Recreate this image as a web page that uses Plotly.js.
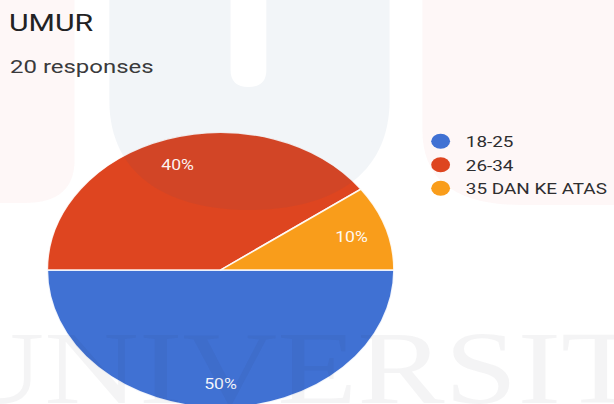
<!DOCTYPE html>
<html>
<head>
<meta charset="utf-8">
<script src="https://cdn.plot.ly/plotly-3.0.1.min.js"></script>
<style>
  html, body { margin: 0; padding: 0; background: #ffffff; overflow: hidden; width: 614px; height: 404px; }
  #chart { width: 488px; height: 420px; transform: scaleX(1.26); transform-origin: 0 0; }
</style>
</head>
<body>
<div id="chart"></div>
<script>
// ---- data ----
const chartTitle = 'UMUR';
const subtitle = '20 responses';
const categories = ['18-25', '26-34', '35 DAN KE ATAS'];
const counts = [10, 8, 2];
const colors = ['#4071d3', '#de4520', '#f99d1b'];
const watermarkText = 'UNIVERSITY';

// ---- layout geometry (unstretched pixels; page is stretched 1.26x horizontally) ----
const S = 1.26;
const W = 488, H = 420;
const cx = 222 / S, cy = 270, R = 138.5;
const px = x => x / W;          // x given in unstretched px
const sx = x => x / S / W;      // x given in final (stretched) px
const py = y => 1 - y / H;

const total = counts.reduce((a, b) => a + b, 0);

const pie = {
  type: 'pie',
  values: counts,
  labels: categories,
  marker: { colors: colors, line: { color: 'rgba(255,255,255,0.9)', width: 1.5 } },
  sort: false,
  direction: 'clockwise',
  rotation: 90,
  textinfo: 'none',
  hoverinfo: 'skip',
  showlegend: false,
  domain: { x: [px(cx - R), px(cx + R)], y: [py(cy + R), py(cy - R)] }
};

const legendTraces = categories.map((c, i) => ({
  type: 'scatter', mode: 'markers', x: [null], y: [null],
  name: c, legendgroup: 'g' + i,
  marker: { size: 15, color: colors[i], symbol: 'circle' },
  hoverinfo: 'skip'
}));

// percent labels placed along each slice bisector
const annotations = [];
let cum = 0;
counts.forEach((v, i) => {
  const mid = (90 + (cum + v / 2) / total * 360) * Math.PI / 180;
  cum += v;
  const rl = 0.81 * R;
  annotations.push({
    xref: 'paper', yref: 'paper',
    x: px(cx + rl * Math.sin(mid) * 0.98), y: py(cy - rl * Math.cos(mid) + 2),
    xanchor: 'center', yanchor: 'middle', showarrow: false,
    text: Math.round(v / total * 100) + '%',
    font: { family: 'Roboto, Arial, sans-serif', size: 14, color: 'rgba(255,255,255,0.95)' }
  });
});

annotations.push({
  xref: 'paper', yref: 'paper', x: sx(8), y: py(66),
  xanchor: 'left', yanchor: 'middle', showarrow: false,
  text: subtitle,
  font: { family: 'Roboto, Arial, sans-serif', size: 19, color: '#3a3a3c' }
});

// faint background watermark
annotations.push({
  xref: 'paper', yref: 'paper', x: sx(345), y: py(308),
  xanchor: 'center', yanchor: 'top', showarrow: false,
  text: watermarkText,
  font: { family: 'Liberation Serif, Times New Roman, serif', size: 104, color: 'rgba(30,30,60,0.05)' }
});

const shapes = [
  // left pink block
  { type: 'path', xref: 'paper', yref: 'paper', layer: 'above', line: { width: 0 },
    fillcolor: 'rgba(235,40,40,0.04)',
    path: `M ${sx(0)},${py(0)} L ${sx(75)},${py(0)} L ${sx(75)},${py(160)} Q ${sx(75)},${py(203)} ${sx(25)},${py(203)} L ${sx(0)},${py(203)} Z` },
  // blue U
  { type: 'path', xref: 'paper', yref: 'paper', layer: 'above', line: { width: 0 },
    fillcolor: 'rgba(30,80,140,0.06)',
    path: `M ${sx(110)},${py(0)} L ${sx(110)},${py(100)} C ${sx(110)},${py(180)} ${sx(175)},${py(210)} ${sx(251)},${py(210)} C ${sx(327)},${py(210)} ${sx(392)},${py(180)} ${sx(392)},${py(100)} L ${sx(392)},${py(0)} Z` },
  // white slot in U
  { type: 'path', xref: 'paper', yref: 'paper', layer: 'above', line: { width: 0 },
    fillcolor: '#ffffff',
    path: `M ${sx(232)},${py(0)} L ${sx(232)},${py(70)} Q ${sx(232)},${py(87)} ${sx(250)},${py(87)} Q ${sx(268)},${py(87)} ${sx(268)},${py(70)} L ${sx(268)},${py(0)} Z` },
  // right pink block
  { type: 'path', xref: 'paper', yref: 'paper', layer: 'above', line: { width: 0 },
    fillcolor: 'rgba(235,40,40,0.035)',
    path: `M ${sx(425)},${py(0)} L ${sx(425)},${py(130)} Q ${sx(425)},${py(205)} ${sx(525)},${py(205)} L ${sx(620)},${py(205)} L ${sx(620)},${py(0)} Z` }
];

const layout = {
  width: W, height: H,
  margin: { l: 0, r: 0, t: 0, b: 0 },
  paper_bgcolor: '#ffffff', plot_bgcolor: 'rgba(0,0,0,0)',
  font: { family: 'Roboto, Arial, sans-serif' },
  title: {
    text: chartTitle, x: sx(9), xanchor: 'left', xref: 'paper',
    y: py(23), yref: 'paper', yanchor: 'middle',
    font: { family: 'Roboto, Arial, sans-serif', size: 24, color: '#222224' }
  },
  xaxis: { visible: false }, yaxis: { visible: false },
  showlegend: true,
  legend: {
    x: sx(418), y: py(125), xanchor: 'left', yanchor: 'top',
    bgcolor: 'rgba(0,0,0,0)', borderwidth: 0,
    traceorder: 'grouped', tracegroupgap: 1,
    font: { family: 'Roboto, Arial, sans-serif', size: 15, color: '#2e2e30' }
  },
  annotations: annotations,
  shapes: shapes
};

Plotly.newPlot('chart', [pie].concat(legendTraces), layout, { staticPlot: true, displayModeBar: false });
</script>
</body>
</html>
